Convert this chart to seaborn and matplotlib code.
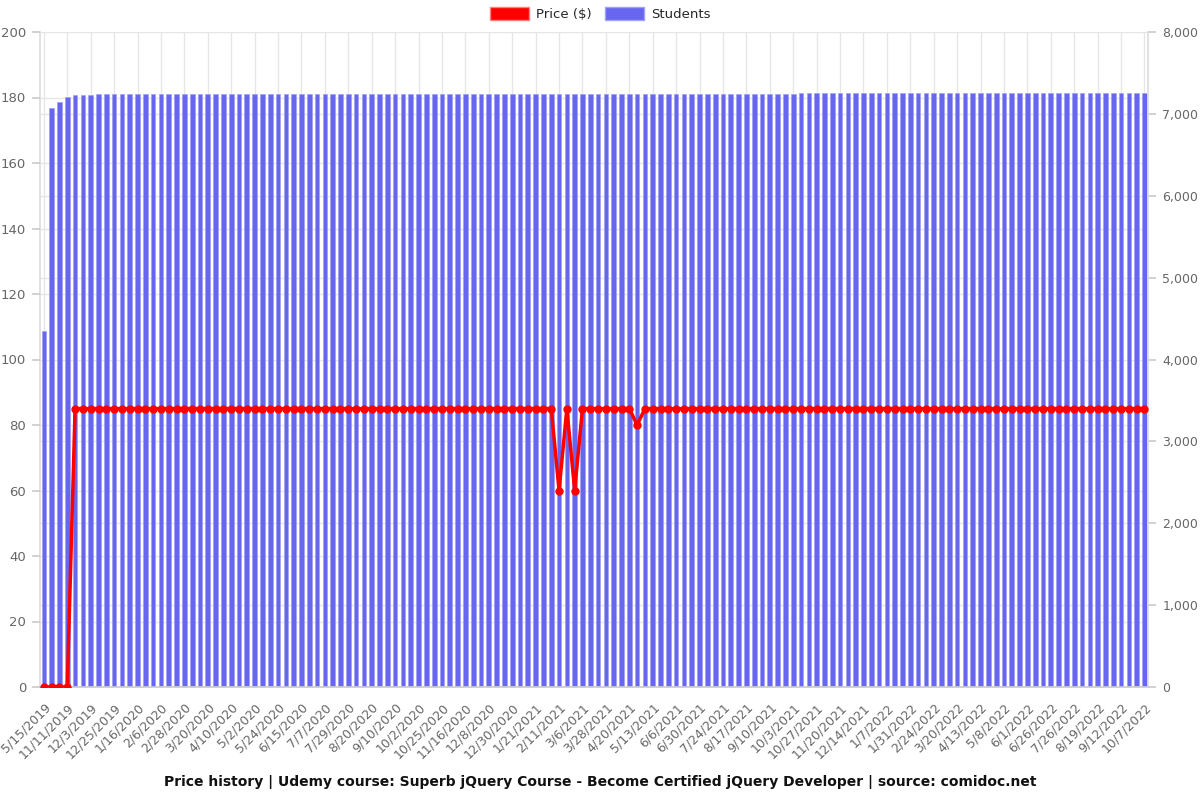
import numpy as np
import pandas as pd
import matplotlib
matplotlib.use("Agg")
import matplotlib.pyplot as plt
import seaborn as sns
from matplotlib.patches import Patch
from matplotlib.ticker import FuncFormatter

# ---- data ----
tick_labels = ["5/15/2019", "11/11/2019", "12/3/2019", "12/25/2019", "1/16/2020", "2/6/2020",
               "2/28/2020", "3/20/2020", "4/10/2020", "5/2/2020", "5/24/2020", "6/15/2020",
               "7/7/2020", "7/29/2020", "8/20/2020", "9/10/2020", "10/2/2020", "10/25/2020",
               "11/16/2020", "12/8/2020", "12/30/2020", "1/21/2021", "2/11/2021", "3/6/2021",
               "3/28/2021", "4/20/2021", "5/13/2021", "6/6/2021", "6/30/2021", "7/24/2021",
               "8/17/2021", "9/10/2021", "10/3/2021", "10/27/2021", "11/20/2021", "12/14/2021",
               "1/7/2022", "1/31/2022", "2/24/2022", "3/20/2022", "4/13/2022", "5/8/2022",
               "6/1/2022", "6/26/2022", "7/26/2022", "8/19/2022", "9/12/2022", "10/7/2022"]

price = ([0, 0, 0, 0] + [85] * 62 + [60, 85, 60] + [85] * 7 + [80] + [85] * 65)

students = [4350, 7070, 7140, 7210, 7235, 7236, 7236, 7237, 7237, 7237,
            7238, 7238, 7238, 7238, 7239, 7239, 7239, 7239, 7240, 7240,
            7240, 7240, 7240, 7241, 7241, 7241, 7241, 7241, 7241, 7242,
            7242, 7242, 7242, 7242, 7242, 7242, 7243, 7243, 7243, 7243,
            7243, 7243, 7243, 7243, 7244, 7244, 7244, 7244, 7244, 7244,
            7244, 7244, 7244, 7245, 7245, 7245, 7245, 7245, 7245, 7245,
            7245, 7245, 7245, 7246, 7246, 7246, 7246, 7246, 7246, 7246,
            7246, 7246, 7246, 7246, 7247, 7247, 7247, 7247, 7247, 7247,
            7247, 7247, 7247, 7247, 7247, 7248, 7248, 7248, 7248, 7248,
            7248, 7248, 7248, 7248, 7248, 7248, 7248, 7249, 7249, 7249,
            7249, 7249, 7249, 7249, 7249, 7249, 7249, 7249, 7249, 7249,
            7250, 7250, 7250, 7250, 7250, 7250, 7250, 7250, 7250, 7250,
            7250, 7250, 7250, 7250, 7251, 7251, 7251, 7251, 7251, 7251,
            7251, 7251, 7251, 7251, 7251, 7251, 7251, 7251, 7252, 7252,
            7252, 7252]

title = "Price history | Udemy course: Superb jQuery Course - Become Certified jQuery Developer | source: comidoc.net"

n = len(price)
df = pd.DataFrame({"idx": np.arange(n), "price": price, "students": students[:n]})

sns.set_theme(style="white")
plt.rcParams['font.family'] = ['DejaVu Sans']

bar_color = "#6666ee"
line_color = "#ff0000"
grid_color = "#e6e6e6"
text_color = "#666666"

fig = plt.figure(figsize=(12, 8), dpi=100)
axr = fig.add_axes([0.0333, 0.14125, 0.9237, 0.81875])

sns.barplot(data=df, x="idx", y="students", ax=axr, color=bar_color, width=0.6,
            edgecolor="#a0a0f4", linewidth=0.5, saturation=1, zorder=2)

axl = axr.twinx()

axr.set_ylim(0, 8000)
axr.set_xlim(-0.5, n - 0.5)
axr.set_yticks(np.arange(0, 8001, 1000))
axr.set_yticks(np.arange(0, 8001, 800), minor=True)
axr.yaxis.set_major_formatter(FuncFormatter(lambda v, p: f"{int(v):,}"))
axr.set_xticks(np.arange(0, n, 3))
axr.set_xticklabels(tick_labels, rotation=45, ha="right", rotation_mode="anchor")
axr.grid(True, which="major", axis="both", color=grid_color, linewidth=1, zorder=0)
axr.grid(True, which="minor", axis="y", color=grid_color, linewidth=1, zorder=0)
axr.set_axisbelow(True)
axr.tick_params(axis="y", which="minor", length=0, left=False, right=False)
axr.tick_params(axis="both", which="major", length=6, color="#cccccc", labelcolor=text_color,
                labelsize=9, pad=4)
axr.tick_params(axis="y", which="major", left=False, labelleft=False, right=True, labelright=True)
axr.set_xlabel("")
axr.set_ylabel("")
for s in axr.spines.values():
    s.set_visible(False)
axr.spines["right"].set_visible(True)
axr.spines["right"].set_color("#dddddd")
axr.spines["left"].set_visible(True)
axr.spines["left"].set_color("#dddddd")
axr.spines["bottom"].set_visible(True)
axr.spines["bottom"].set_color("#cccccc")

sns.lineplot(data=df, x="idx", y="price", ax=axl, color=line_color, linewidth=2.5,
             marker="o", markersize=6, markeredgewidth=0, zorder=5)
axl.set_ylim(0, 200)
axl.set_xlim(-0.5, n - 0.5)
axl.set_yticks(np.arange(0, 201, 20))
axl.tick_params(axis="y", length=6, color="#cccccc", labelcolor=text_color, labelsize=9.5,
                left=True, labelleft=True, right=False, labelright=False, pad=4)
axl.set_ylabel("")
axl.set_xlabel("")
for s in axl.spines.values():
    s.set_visible(False)

handles = [Patch(facecolor=line_color, edgecolor="#ff8080"), Patch(facecolor=bar_color, edgecolor="#a0a0f4")]
fig.legend(handles, ["Price ($)", "Students"], loc="upper center", bbox_to_anchor=(0.5, 1.006),
           ncol=2, frameon=False, fontsize=9.5, handlelength=3, handleheight=1.1,
           columnspacing=1.0, handletextpad=0.5)

fig.text(0.5, 0.022, title, ha="center", va="center", fontsize=10, fontweight="bold", color="#111111")

fig.savefig("out.png", dpi=100)
